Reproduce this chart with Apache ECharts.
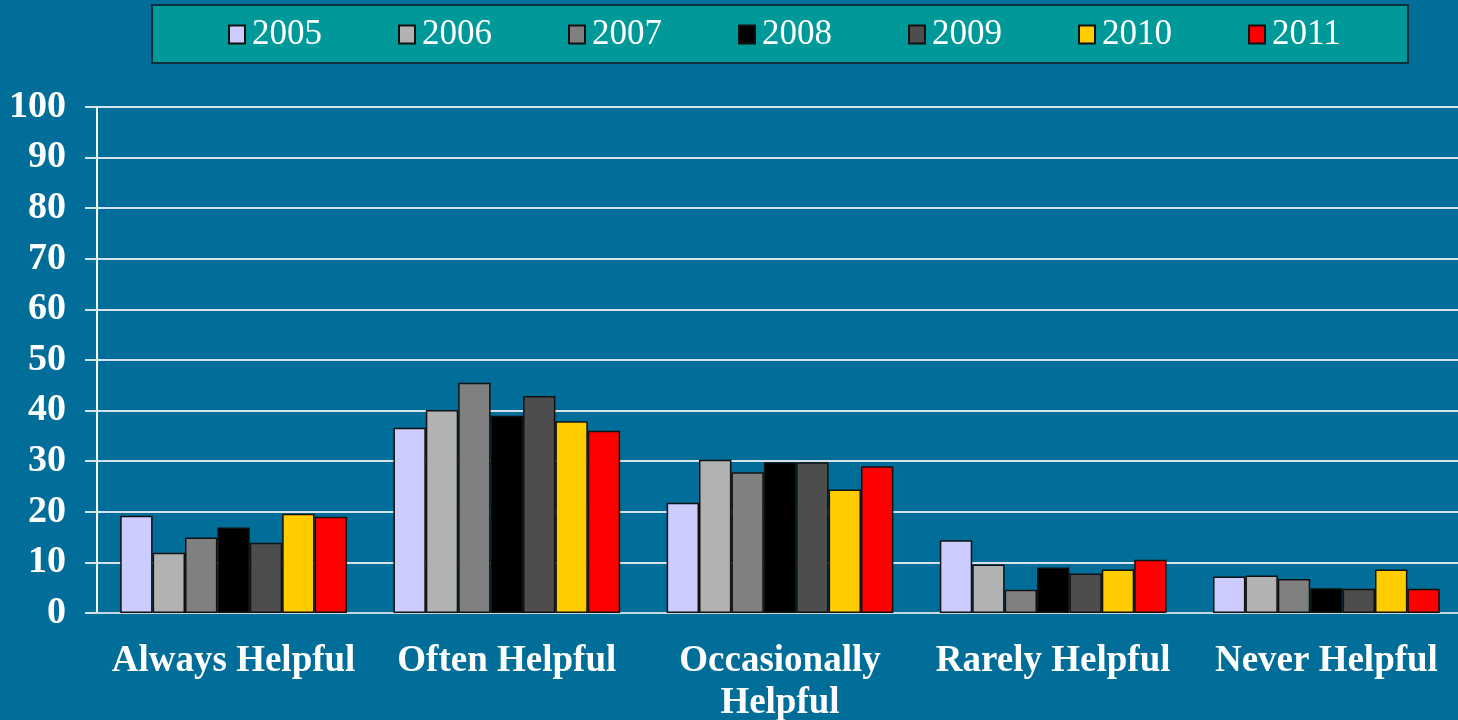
<!DOCTYPE html>
<html>
<head>
<meta charset="utf-8">
<script src="https://cdn.jsdelivr.net/npm/echarts@6/dist/echarts.min.js"></script>
<style>
  html, body { margin: 0; padding: 0; background: #006e99; }
  #main { width: 1458px; height: 720px; }
</style>
</head>
<body>
<div id="main"></div>
<script>
// categories and years
const categories = ['Always Helpful', 'Often Helpful', 'Occasionally\nHelpful', 'Rarely Helpful', 'Never Helpful']
const years = ['2005', '2006', '2007', '2008', '2009', '2010', '2011']
const yearColors = ['#ccccff', '#b2b2b2', '#808080', '#000000', '#4d4d4d', '#ffcc00', '#ff0000']
// values per year, in category order
const v2005 = [19.2, 36.6, 21.8, 14.4, 7.2]
const v2006 = [11.9, 40.1, 30.3, 9.6, 7.4]
const v2007 = [14.9, 45.5, 27.8, 4.6, 6.7]
const v2008 = [16.9, 39.0, 29.8, 9.0, 4.9]
const v2009 = [13.9, 42.9, 29.8, 7.8, 4.8]
const v2010 = [19.6, 37.9, 24.4, 8.6, 8.6]
const v2011 = [19.0, 36.0, 29.0, 10.5, 4.8]
const yearValues = [v2005, v2006, v2007, v2008, v2009, v2010, v2011]

const serif = '"Liberation Serif", "Times New Roman", serif'

const chart = echarts.init(document.getElementById('main'))

const option = {
  backgroundColor: '#006e99',
  animation: false,
  graphic: [{
    type: 'rect',
    shape: { x: 152, y: 5, width: 1256, height: 58 },
    style: { fill: '#009999', stroke: '#0b2f3f', lineWidth: 2 },
    z: -1
  }],
  legend: {
    left: 228,
    top: 17,
    padding: 0,
    itemWidth: 16,
    itemHeight: 18,
    itemGap: 76,
    icon: 'rect',
    textStyle: { color: '#fff', fontFamily: serif, fontSize: 35, padding: [0, 0, 0, 2] },
    data: years
  },
  grid: { left: 97, top: 107, width: 1366, height: 506, outerBoundsMode: 'none' },
  xAxis: [{
    type: 'category',
    data: categories,
    axisLine: { lineStyle: { color: '#c8d8e2', width: 2 } },
    axisTick: { length: 11, lineStyle: { color: '#e6eef3', width: 1.5 } },
    axisLabel: {
      color: '#fff', fontFamily: serif, fontWeight: 'bold', fontSize: 37,
      lineHeight: 42, margin: 27, interval: 0
    }
  }, {
    type: 'category',
    data: categories,
    position: 'bottom',
    offset: -7,
    axisLine: { show: false },
    axisTick: { alignWithLabel: true, length: 16, lineStyle: { color: '#e6eef3', width: 1.5 } },
    axisLabel: { show: false }
  }],
  yAxis: {
    type: 'value',
    min: 0,
    max: 100,
    interval: 10,
    axisLine: { show: true, lineStyle: { color: '#ffffff', width: 2 } },
    axisTick: { show: true, length: 12, lineStyle: { color: '#d6e2ea', width: 2 } },
    splitLine: { lineStyle: { color: '#d6e2ea', width: 2 } },
    axisLabel: { color: '#fff', fontFamily: serif, fontWeight: 'bold', fontSize: 38, margin: 31 }
  },
  series: years.map((y, i) => ({
    name: y,
    type: 'bar',
    xAxisIndex: 0,
    data: yearValues[i],
    barGap: '0%',
    barCategoryGap: '17%',
    itemStyle: { color: yearColors[i], borderColor: '#111', borderWidth: 1.5 }
  }))
}

chart.setOption(option)
window.onresize = () => chart.resize()
</script>
</body>
</html>
